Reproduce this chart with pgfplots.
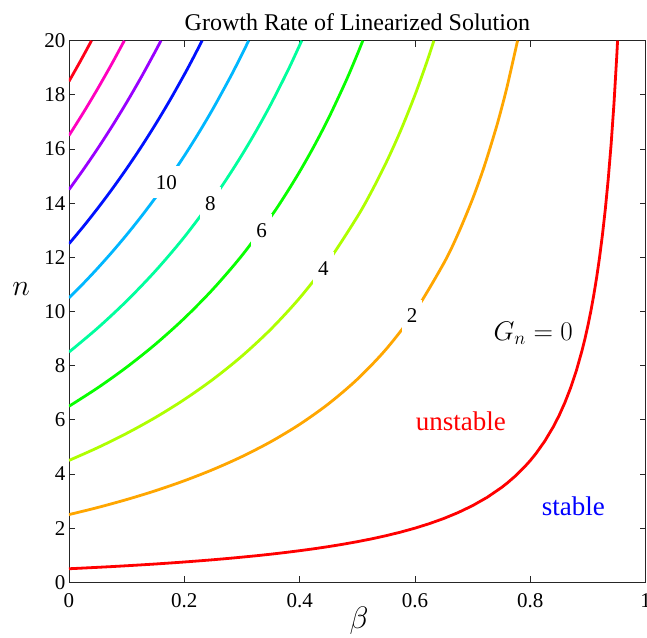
\RequirePackage{fix-cm}
\documentclass[border=0pt]{standalone}
\usepackage{pgfplots}
\pgfplotsset{compat=1.18}
\usepackage{fontspec}
\setmainfont{Liberation Serif}
\definecolor{g0}{RGB}{255,0,0}
\definecolor{g2}{RGB}{255,166,0}
\definecolor{g4}{RGB}{174,255,0}
\definecolor{g6}{RGB}{8,255,0}
\definecolor{g8}{RGB}{0,255,157}
\definecolor{g10}{RGB}{0,183,255}
\definecolor{g12}{RGB}{0,17,255}
\definecolor{g14}{RGB}{153,0,255}
\definecolor{g16}{RGB}{255,0,191}
\definecolor{g18}{RGB}{255,0,26}
\definecolor{axgray}{RGB}{38,38,38}
\begin{document}
\begin{tikzpicture}
\begin{axis}[
  scale only axis, width=576.7pt, height=541.6pt,
  xmin=0, xmax=1, ymin=0, ymax=20,
  xtick={0,0.2,0.4,0.6,0.8,1}, xticklabels={0,0.2,0.4,0.6,0.8,1},
  ytick={0,2,4,6,8,10,12,14,16,18,20},
  tick align=inside, major tick length=6pt,
  axis line style={axgray, line width=0.7pt},
  every tick/.style={axgray, line width=0.7pt},
  tick label style={font=\fontsize{21}{25}\selectfont},
  xticklabel style={yshift=-8pt},
  /pgf/number format/assume math mode=true,
  title={Growth Rate of Linearized Solution},
  title style={font=\fontsize{24}{28}\selectfont, at={(0.5,1)}, anchor=south},
  xlabel={$\beta$}, ylabel={$n$},
  xlabel style={font=\fontsize{31}{35}\selectfont, at={(axis description cs:0.503,-0.0715)}, anchor=center},
  ylabel style={font=\fontsize{30}{34}\selectfont, rotate=-90, at={(axis description cs:-0.083,0.5416)}, anchor=center},
  every axis plot/.append style={line width=2.8pt, line join=round},
]
\addplot[g0] coordinates {(0,0.5)(0.025,0.526)(0.05,0.553)(0.075,0.581)(0.1,0.611)(0.125,0.643)(0.15,0.676)(0.175,0.712)(0.2,0.75)(0.225,0.790)(0.25,0.833)(0.275,0.879)(0.3,0.929)(0.325,0.981)(0.35,1.038)(0.375,1.1)(0.4,1.167)(0.425,1.239)(0.45,1.318)(0.475,1.405)(0.5,1.5)(0.525,1.605)(0.55,1.722)(0.575,1.853)(0.6,2.0)(0.625,2.167)(0.65,2.357)(0.675,2.577)(0.7,2.833)(0.725,3.136)(0.75,3.5)(0.76,3.667)(0.775,3.944)(0.79,4.262)(0.8,4.5)(0.81,4.763)(0.825,5.214)(0.84,5.75)(0.85,6.167)(0.86,6.643)(0.87,7.192)(0.88,7.833)(0.89,8.591)(0.895,9.024)(0.9,9.5)(0.905,10.026)(0.91,10.611)(0.915,11.265)(0.92,12.0)(0.925,12.833)(0.93,13.786)(0.935,14.885)(0.94,16.167)(0.945,17.682)(0.95,19.5)(0.9512,20)};
\addplot[g2, smooth] coordinates {(0,2.5)(0.05,2.763)(0.1,3.056)(0.15,3.382)(0.2,3.75)(0.25,4.167)(0.3,4.643)(0.35,5.192)(0.4,5.833)(0.45,6.591)(0.5,7.5)(0.55,8.611)(0.6,10)(0.65,11.786)(0.675,12.885)(0.7,14.167)(0.72,15.357)(0.74,16.731)(0.75,17.5)(0.76,18.333)(0.7778,20)};
\addplot[g4, smooth] coordinates {(0,4.5)(0.05,4.974)(0.1,5.5)(0.15,6.088)(0.2,6.75)(0.25,7.5)(0.3,8.357)(0.35,9.346)(0.4,10.5)(0.45,11.864)(0.5,13.5)(0.525,14.447)(0.55,15.5)(0.575,16.676)(0.6,18)(0.62,19.184)(0.6327,20)};
\addplot[g6, smooth] coordinates {(0,6.5)(0.05,7.184)(0.1,7.944)(0.15,8.794)(0.2,9.75)(0.25,10.833)(0.3,12.071)(0.35,13.5)(0.375,14.3)(0.4,15.167)(0.425,16.109)(0.45,17.136)(0.48,18.5)(0.5,19.5)(0.5094,20)};
\addplot[g8, smooth] coordinates {(0,8.5)(0.05,9.395)(0.1,10.389)(0.15,11.5)(0.2,12.75)(0.25,14.167)(0.275,14.948)(0.3,15.786)(0.325,16.685)(0.35,17.654)(0.38,18.919)(0.4035,20)};
\addplot[g10, smooth] coordinates {(0,10.5)(0.025,11.038)(0.05,11.605)(0.075,12.203)(0.1,12.833)(0.125,13.5)(0.15,14.206)(0.175,14.955)(0.2,15.75)(0.225,16.597)(0.25,17.5)(0.28,18.667)(0.3,19.5)(0.3115,20)};
\addplot[g12, smooth] coordinates {(0,12.5)(0.025,13.141)(0.05,13.816)(0.075,14.527)(0.1,15.278)(0.125,16.071)(0.15,16.912)(0.175,17.803)(0.2,18.75)(0.215,19.347)(0.2308,20)};
\addplot[g14, smooth] coordinates {(0,14.5)(0.025,15.244)(0.05,16.026)(0.075,16.851)(0.1,17.722)(0.125,18.643)(0.15,19.618)(0.1594,20)};
\addplot[g16, smooth] coordinates {(0,16.5)(0.025,17.346)(0.05,18.237)(0.075,19.176)(0.0959,20)};
\addplot[g18, smooth] coordinates {(0,18.5)(0.02,19.255)(0.039,20)};
\tikzset{clab/.style={fill=white, inner xsep=5pt, inner ysep=9pt, font=\fontsize{21}{25}\selectfont}}
\node[clab] at (axis cs:0.169,14.77) {10};
\node[clab] at (axis cs:0.245,14.0) {8};
\node[clab] at (axis cs:0.334,13.0) {6};
\node[clab] at (axis cs:0.441,11.6) {4};
\node[clab] at (axis cs:0.595,9.85) {2};
\node[anchor=base, inner sep=0pt, font=\fontsize{27}{30}\selectfont] at (axis cs:0.805,8.94) {$G_n = 0$};
\node[anchor=base east, inner sep=0pt, text=red, font=\fontsize{27}{30}\selectfont] at (axis cs:0.758,5.62) {unstable};
\node[anchor=base west, inner sep=0pt, text=blue, font=\fontsize{27}{30}\selectfont] at (axis cs:0.8197,2.46) {stable};
\end{axis}
\pgfresetboundingbox
\path[use as bounding box] ([shift={(-69pt,-55.7pt)}]current axis.south west) rectangle ([shift={(1.3pt,40.7pt)}]current axis.north east);
\end{tikzpicture}
\end{document}
